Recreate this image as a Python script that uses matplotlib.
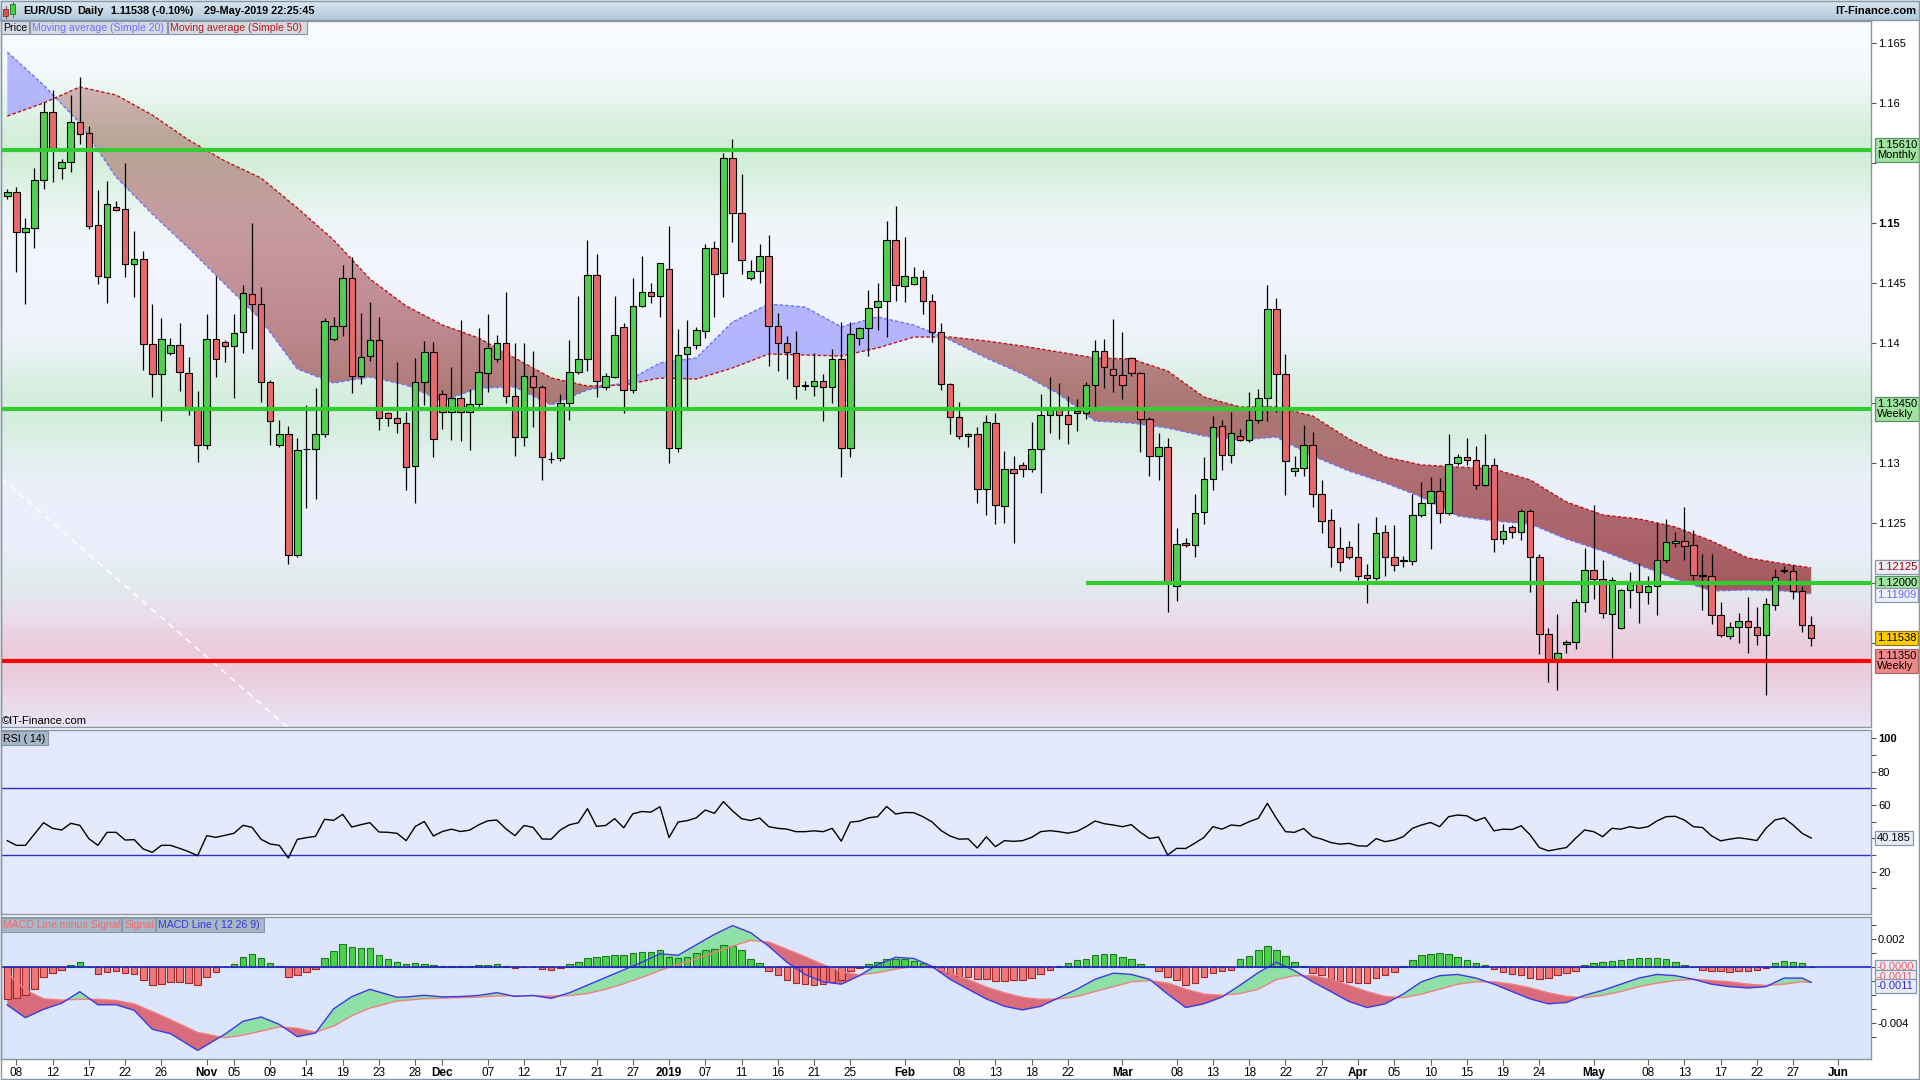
import numpy as np
import pandas as pd
import matplotlib
matplotlib.use("Agg")
import matplotlib.pyplot as plt
from matplotlib.path import Path
from matplotlib.patches import Rectangle
from matplotlib.transforms import blended_transform_factory
from matplotlib import font_manager

plt.rcParams['font.family'] = ['Liberation Sans', 'DejaVu Sans']
_names = {f.name for f in font_manager.fontManager.ttflist}
NARROW = 'Liberation Sans Narrow' if 'Liberation Sans Narrow' in _names else 'Liberation Sans'

# ---------------------------------------------------------------- data
start_date = "2018-10-07"
axis_end_date = "2019-06-02"
holidays = ["2018-12-25", "2019-01-01"]

opens = [1.15227,1.15255,1.14922,1.14955,1.15355,1.15922,1.15455,1.15505,1.15838,1.15747,
 1.14980,1.14547,1.15130,1.15113,1.14655,1.14697,1.13988,1.13738,1.13913,1.13980,
 1.13747,1.13455,1.13147,1.14030,1.14005,1.13972,1.14091,1.14405,1.14322,1.13677,
 1.13147,1.13238,1.12230,1.13115,1.13113,1.13238,1.14030,1.14138,1.14538,1.13722,
 1.13888,1.14022,1.13413,1.13372,1.13330,1.12972,1.13672,1.13922,1.13572,1.13422,
 1.13538,1.13422,1.13488,1.13752,1.13863,1.13997,1.13558,1.13213,1.13724,1.13630,
 1.13030,1.13038,1.13497,1.13755,1.13863,1.14566,1.13630,1.13713,1.14130,1.13608,
 1.14308,1.14422,1.14391,1.14613,1.13122,1.13905,1.13980,1.14100,1.14788,1.14580,
 1.15538,1.15080,1.14538,1.14597,1.14722,1.14138,1.13997,1.13913,1.13649,1.13643,
 1.13685,1.13630,1.13863,1.13122,1.14038,1.14122,1.14297,1.14347,1.14855,1.14472,
 1.14488,1.14547,1.14347,1.14088,1.13655,1.13380,1.13222,1.13241,1.12780,1.13330,
 1.12638,1.12947,1.12980,1.12947,1.13113,1.13397,1.13447,1.13397,1.13435,1.13418,
 1.13647,1.13930,1.13780,1.13730,1.13872,1.13747,1.13363,1.13055,1.13130,1.11972,
 1.12330,1.12313,1.12588,1.12863,1.13305,1.13063,1.13222,1.13188,1.13355,1.13538,
 1.14280,1.13738,1.12930,1.12955,1.13147,1.12738,1.12522,1.12288,1.12297,1.12213,
 1.12063,1.12038,1.12422,1.12213,1.12183,1.12180,1.12563,1.12663,1.12763,1.12580,
 1.12997,1.13047,1.13022,1.12813,1.12980,1.12363,1.12463,1.12422,1.12597,1.12213,
 1.11572,1.11363,1.11488,1.11505,1.11838,1.12105,1.12030,1.11738,1.11622,1.11938,
 1.12013,1.11922,1.11972,1.12188,1.12330,1.12347,1.12313,1.12060,1.12055,1.11730,
 1.11555,1.11630,1.11680,1.11630,1.11563,1.11813,1.12103,1.12097,1.11930,1.11647]
highs = [1.15283,1.15297,1.15038,1.15455,1.16005,1.16108,1.15530,1.16066,1.16216,1.15808,
 1.15274,1.15347,1.15180,1.15497,1.14933,1.14766,1.14324,1.14205,1.14043,1.14163,
 1.13883,1.13600,1.14241,1.14558,1.14024,1.14241,1.14482,1.14997,1.14463,1.13690,
 1.13355,1.13305,1.13205,1.13480,1.13622,1.14205,1.14213,1.14649,1.14718,1.14247,
 1.14338,1.14213,1.13422,1.13838,1.13422,1.13872,1.14013,1.14005,1.13605,1.13797,
 1.14188,1.13613,1.14122,1.14241,1.14066,1.14424,1.13997,1.13997,1.13933,1.13650,
 1.13093,1.13574,1.14024,1.14391,1.14858,1.14741,1.13752,1.14391,1.14163,1.14538,
 1.14724,1.14497,1.14668,1.14974,1.14113,1.14191,1.14130,1.14824,1.14849,1.15585,
 1.15697,1.15408,1.14690,1.14824,1.14899,1.14247,1.14058,1.14100,1.13682,1.13913,
 1.13741,1.13947,1.14172,1.14172,1.14130,1.14441,1.14502,1.15016,1.15141,1.14885,
 1.14630,1.14608,1.14405,1.14168,1.13668,1.13505,1.13252,1.13297,1.13400,1.13413,
 1.13100,1.13058,1.13008,1.13338,1.13572,1.13716,1.13663,1.13558,1.13530,1.13672,
 1.14022,1.14030,1.14197,1.14091,1.13880,1.13755,1.13380,1.13247,1.13205,1.12455,
 1.12372,1.12738,1.13047,1.13388,1.13355,1.13422,1.13280,1.13588,1.13613,1.14480,
 1.14372,1.13905,1.13055,1.13313,1.13255,1.12855,1.12613,1.12463,1.12347,1.12497,
 1.12155,1.12547,1.12480,1.12480,1.12227,1.12738,1.12838,1.12880,1.12872,1.13241,
 1.13072,1.13205,1.13138,1.13241,1.13038,1.12488,1.12480,1.12613,1.12613,1.12238,
 1.11622,1.11738,1.11522,1.11863,1.12288,1.12647,1.12188,1.12047,1.11947,1.12088,
 1.12163,1.12055,1.12497,1.12530,1.12422,1.12630,1.12438,1.12238,1.12238,1.11838,
 1.11672,1.11747,1.11880,1.11797,1.11872,1.12113,1.12138,1.12147,1.11972,1.11722]
lows = [1.15199,1.14593,1.14322,1.14793,1.15280,1.15343,1.15363,1.15427,1.15655,1.14952,
 1.14488,1.14330,1.15102,1.14552,1.14385,1.13774,1.13552,1.13352,1.13900,1.13602,
 1.13400,1.13010,1.13118,1.13718,1.13838,1.13538,1.13913,1.13947,1.13510,1.13150,
 1.13135,1.12155,1.12213,1.12627,1.12702,1.13213,1.14018,1.14055,1.13580,1.13655,
 1.13847,1.13272,1.13305,1.13247,1.12772,1.12663,1.13480,1.13047,1.13280,1.13188,
 1.13180,1.13105,1.13470,1.13593,1.13841,1.13502,1.13060,1.13143,1.13302,1.12858,
 1.12997,1.13018,1.13358,1.13740,1.13768,1.13552,1.13608,1.13705,1.13418,1.13580,
 1.14297,1.14330,1.14213,1.13002,1.13093,1.13468,1.13947,1.14043,1.14213,1.14385,
 1.14843,1.14572,1.14524,1.14502,1.13810,1.13768,1.13697,1.13530,1.13608,1.13560,
 1.13352,1.13502,1.12885,1.13047,1.13983,1.13891,1.14108,1.14052,1.14352,1.14338,
 1.14480,1.14238,1.14005,1.13608,1.13238,1.13202,1.13135,1.12668,1.12568,1.12488,
 1.12497,1.12335,1.12885,1.12927,1.12747,1.13247,1.13197,1.13155,1.13268,1.13363,
 1.13468,1.13622,1.13588,1.13530,1.13722,1.13088,1.12888,1.12855,1.11755,1.11847,
 1.12297,1.12213,1.12488,1.12772,1.12938,1.12997,1.13182,1.13172,1.13330,1.13347,
 1.13422,1.12730,1.12888,1.12888,1.12630,1.12413,1.12130,1.12097,1.12197,1.12022,
 1.11830,1.12022,1.12055,1.12097,1.12130,1.12147,1.12547,1.12285,1.12497,1.12563,
 1.12980,1.12980,1.12780,1.12807,1.12255,1.12322,1.12372,1.12355,1.11922,1.11405,
 1.11172,1.11105,1.11413,1.11447,1.11755,1.11863,1.11705,1.11372,1.11613,1.11788,
 1.11663,1.11822,1.11730,1.12163,1.12297,1.12188,1.12022,1.11772,1.11655,1.11547,
 1.11530,1.11497,1.11413,1.11480,1.11063,1.11772,1.12080,1.11863,1.11588,1.11472]
closes = [1.15255,1.14922,1.14955,1.15355,1.15922,1.15624,1.15505,1.15838,1.15738,1.14977,
 1.14558,1.15155,1.15110,1.14655,1.14697,1.13991,1.13738,1.14030,1.13980,1.13755,
 1.13441,1.13147,1.14030,1.13863,1.13972,1.14080,1.14413,1.14322,1.13677,1.13347,
 1.13238,1.12230,1.13105,1.13120,1.13238,1.14180,1.14138,1.14538,1.13722,1.13880,
 1.14022,1.13372,1.13372,1.13330,1.12963,1.13672,1.13922,1.13197,1.13422,1.13538,
 1.13422,1.13488,1.13755,1.13955,1.13997,1.13558,1.13213,1.13724,1.13630,1.13047,
 1.13036,1.13497,1.13755,1.13863,1.14566,1.13685,1.13724,1.14066,1.13608,1.14308,
 1.14422,1.14391,1.14663,1.13122,1.13897,1.13963,1.14108,1.14788,1.14574,1.15538,
 1.15080,1.14688,1.14597,1.14722,1.14138,1.13997,1.13922,1.13641,1.13645,1.13685,
 1.13630,1.13863,1.13122,1.14072,1.14122,1.14288,1.14347,1.14855,1.14480,1.14555,
 1.14547,1.14347,1.14088,1.13655,1.13380,1.13222,1.13241,1.12780,1.13338,1.12647,
 1.12947,1.12913,1.12947,1.13113,1.13397,1.13447,1.13397,1.13322,1.13413,1.13647,
 1.13930,1.13797,1.13730,1.13647,1.13747,1.13363,1.13055,1.13130,1.11997,1.12322,
 1.12313,1.12580,1.12863,1.13297,1.13063,1.13247,1.13188,1.13355,1.13538,1.14280,
 1.13738,1.13013,1.12955,1.13147,1.12738,1.12513,1.12297,1.12172,1.12213,1.12055,
 1.12038,1.12413,1.12213,1.12147,1.12187,1.12563,1.12663,1.12763,1.12580,1.12988,
 1.13047,1.13022,1.12813,1.12980,1.12363,1.12430,1.12422,1.12597,1.12213,1.11572,
 1.11363,1.11413,1.11505,1.11838,1.12105,1.12030,1.11747,1.12022,1.11938,1.12013,
 1.11922,1.11972,1.12188,1.12338,1.12347,1.12305,1.12063,1.12066,1.11730,1.11563,
 1.11630,1.11680,1.11630,1.11563,1.11822,1.12047,1.12107,1.11930,1.11647,1.11538]

# moving averages read every 4th bar
ma_idx = list(range(0, 200, 4)) + [199]
ma20 = [1.16424,1.16149,1.15833,1.15383,1.15074,1.14791,1.14491,1.14191,1.13783,1.13666,
 1.13716,1.13649,1.13516,1.13624,1.13633,1.13483,1.13608,1.13666,1.13833,1.13874,
 1.14174,1.14324,1.14299,1.14133,1.14216,1.14149,1.14024,1.13874,1.13741,1.13574,
 1.13349,1.13333,1.13291,1.13224,1.13191,1.13216,1.13058,1.12933,1.12833,1.12716,
 1.12558,1.12516,1.12491,1.12366,1.12266,1.12149,1.12033,1.11933,1.11941,1.11933,1.11909]
ma50 = [1.15891,1.15999,1.16133,1.16066,1.15899,1.15691,1.15516,1.15374,1.15124,1.14858,
 1.14533,1.14308,1.14149,1.14041,1.13874,1.13708,1.13641,1.13649,1.13708,1.13699,
 1.13791,1.13908,1.13899,1.13891,1.13958,1.14049,1.14049,1.14016,1.13974,1.13924,
 1.13874,1.13866,1.13766,1.13549,1.13466,1.13466,1.13391,1.13199,1.13049,1.12983,
 1.12966,1.12949,1.12858,1.12674,1.12566,1.12533,1.12466,1.12349,1.12208,1.12158,1.12125]

level_values = [1.15610, 1.13450, 1.12000, 1.11350]
level_start_bar = [None, None, 119, None]

trend_bars = [-0.7, 30.9]
trend_prices = [1.12874, 1.10799]

# RSI(14), one value per bar
rsi_vals = [38.6,35.8,35.8,42.6,49.4,46.0,45.0,49.0,47.8,39.8,35.8,43.6,43.6,39.0,39.2,33.6,
 31.6,35.8,35.8,34.0,32.0,29.6,41.6,40.6,41.8,43.0,47.8,46.6,39.4,36.6,35.8,28.2,
 39.4,40.4,41.2,51.4,50.8,54.4,46.8,48.2,49.4,43.8,43.6,43.0,
 38.6,47.1,50.1,41.4,44.1,45.5,44.1,44.9,48.1,50.5,51.0,45.7,41.6,47.7,46.6,39.6,
 39.5,45.0,48.1,49.4,57.8,47.2,47.7,51.8,46.3,54.7,56.1,55.7,59.0,40.5,49.8,50.6,
 52.3,57.0,55.0,62.0,56.5,51.8,50.7,52.2,47.0,46.0,45.5,44.0,44.0,44.5,44.0,46.0,
 38.3,49.7,50.3,52.3,53.0,59.1,54.6,55.5,55.4,53.0,49.9,44.7,41.4,39.5,39.7,34.2,
 40.9,35.0,38.6,38.2,38.6,40.6,44.0,44.6,44.0,43.1,44.2,47.0,50.4,48.8,48.0,47.0,
 48.2,43.6,39.9,40.8,30.0,34.0,33.9,37.1,40.5,47.0,45.5,48.0,47.5,50.0,52.0,61.0,
 52.0,44.0,43.6,45.9,41.0,39.5,37.5,36.5,37.0,35.5,35.3,39.8,38.0,39.0,41.0,46.0,
 48.0,49.5,47.0,53.0,54.0,53.5,50.5,52.5,44.5,45.5,45.3,47.5,42.0,34.5,32.5,33.5,
 34.5,40.0,45.0,44.0,41.0,46.0,45.5,47.0,46.0,47.0,50.5,53.0,53.2,51.0,47.0,46.5,
 41.5,38.5,39.5,40.3,39.6,38.7,46.0,51.0,52.2,48.0,43.0,40.185]

# MACD line and signal, read at the same bars
macd_idx = [0,2,4,6,8,10,12,14,16,18,21,24,26,28,30,32,34,36,38,40,43] + \
           list(range(44, 200, 2)) + [199]
macd_line = [-0.00273,-0.00364,-0.00304,-0.00260,-0.00177,-0.00271,-0.00271,-0.00311,-0.00447,
 -0.00479,-0.00599,-0.00483,-0.00390,-0.00359,-0.00412,-0.00500,-0.00474,-0.00300,-0.00213,
 -0.00160,-0.00217,
 -0.00215,-0.00203,-0.00214,-0.00212,-0.00204,-0.00184,-0.00211,-0.00204,-0.00225,-0.00185,
 -0.00130,-0.00075,-0.00020,0.00035,0.00095,0.00085,0.00160,0.00235,0.00298,0.00247,
 0.00150,0.00035,-0.00053,-0.00106,-0.00123,-0.00062,0.00018,0.00070,0.00062,0.00005,
 -0.00088,-0.00159,-0.00229,-0.00282,-0.00308,-0.00282,-0.00220,-0.00159,-0.00088,-0.00044,
 -0.00053,-0.00088,-0.00194,-0.00291,-0.00264,-0.00215,-0.00130,-0.00040,0.00035,-0.00026,
 -0.00106,-0.00176,-0.00247,-0.00291,-0.00264,-0.00194,-0.00106,-0.00062,-0.00053,-0.00079,
 -0.00123,-0.00176,-0.00229,-0.00264,-0.00255,-0.00203,-0.00167,-0.00123,-0.00079,-0.00053,
 -0.00062,-0.00088,-0.00123,-0.00141,-0.00150,-0.00141,-0.00079,-0.00079,-0.00110]
signal_line = [-0.00045,-0.00165,-0.00228,-0.00237,-0.00232,-0.00232,-0.00240,-0.00265,-0.00320,
 -0.00378,-0.00470,-0.00508,-0.00490,-0.00460,-0.00430,-0.00440,-0.00468,-0.00425,-0.00350,
 -0.00295,-0.00244,
 -0.00239,-0.00228,-0.00224,-0.00220,-0.00216,-0.00207,-0.00206,-0.00206,-0.00208,-0.00205,
 -0.00190,-0.00160,-0.00120,-0.00075,-0.00025,0.00020,0.00060,0.00105,0.00150,0.00192,
 0.00180,0.00128,0.00075,0.00018,-0.00033,-0.00057,-0.00040,-0.00015,0.00005,-0.00005,
 -0.00043,-0.00089,-0.00144,-0.00185,-0.00218,-0.00232,-0.00229,-0.00211,-0.00176,-0.00141,
 -0.00106,-0.00097,-0.00115,-0.00159,-0.00194,-0.00203,-0.00190,-0.00160,-0.00090,-0.00062,
 -0.00062,-0.00088,-0.00132,-0.00176,-0.00211,-0.00220,-0.00194,-0.00159,-0.00123,-0.00106,
 -0.00106,-0.00123,-0.00150,-0.00185,-0.00211,-0.00220,-0.00203,-0.00176,-0.00141,-0.00115,
 -0.00097,-0.00088,-0.00097,-0.00106,-0.00123,-0.00132,-0.00123,-0.00106,-0.00110]

# MACD minus signal histogram, one value per bar
hist_vals = [-0.00232,-0.00220,-0.00203,-0.00155,-0.00073,-0.00045,-0.00023,0.00013,0.00034,0.0,
 -0.00052,-0.00035,-0.00028,-0.00045,-0.00052,-0.00095,-0.00131,-0.00124,-0.00109,-0.00109,
 -0.00117,-0.00131,-0.00071,-0.00035,0.0,0.00024,0.00074,0.00096,0.00067,0.00031,
 0.00005,-0.00074,-0.00060,-0.00035,-0.00017,0.00063,0.00113,0.00165,0.00142,0.00135,
 0.00135,0.00084,0.00055,0.00034,
 0.00024,0.00028,0.00025,0.00012,0.00010,0.00009,0.00008,0.00008,0.00012,0.00018,
 0.00023,0.00010,-0.00005,0.00002,0.00002,-0.00015,-0.00020,-0.00008,0.00020,0.00035,
 0.00065,0.00070,0.00080,0.00090,0.00085,0.00100,0.00105,0.00108,0.00120,0.00075,
 0.00065,0.00070,0.00100,0.00125,0.00130,0.00160,0.00150,0.00120,0.00055,0.00030,
 -0.00030,-0.00060,-0.00090,-0.00115,-0.00125,-0.00128,-0.00122,-0.00110,-0.00090,-0.00030,
 -0.00005,0.00020,0.00040,0.00055,0.00060,0.00055,0.00045,0.00030,0.00008,-0.00025,
 -0.00045,-0.00065,-0.00070,-0.00085,-0.00085,-0.00097,-0.00097,-0.00095,-0.00090,-0.00080,
 -0.00050,-0.00020,0.00005,0.00030,0.00048,0.00060,0.00085,0.00095,0.00097,0.00075,
 0.00055,0.00025,0.0,-0.00030,-0.00075,-0.00095,-0.00132,-0.00115,-0.00075,-0.00040,
 -0.00030,-0.00020,0.00060,0.00080,0.00120,0.00150,0.00125,0.00080,0.00036,0.00010,
 -0.00040,-0.00060,-0.00085,-0.00100,-0.00110,-0.00115,-0.00115,-0.00080,-0.00055,-0.00035,
 0.00010,0.00050,0.00088,0.00095,0.00098,0.00095,0.00070,0.00050,0.00027,0.00015,
 -0.00017,-0.00035,-0.00050,-0.00060,-0.00079,-0.00085,-0.00080,-0.00060,-0.00044,-0.00025,
 0.00017,0.00030,0.00036,0.00045,0.00053,0.00060,0.00062,0.00062,0.00062,0.00055,
 0.00035,0.00015,0.0,-0.00020,-0.00026,-0.00030,-0.00035,-0.00030,-0.00027,-0.00020,
 -0.00009,0.00030,0.00044,0.00040,0.00027,0.0]

tick_dates = ["2018-10-08","2018-10-12","2018-10-17","2018-10-22","2018-10-26","2018-11-01",
              "2018-11-05","2018-11-09","2018-11-14","2018-11-19","2018-11-23","2018-11-28",
              "2018-12-02","2018-12-07","2018-12-12","2018-12-17","2018-12-21","2018-12-27",
              "2019-01-02","2019-01-07","2019-01-11","2019-01-16","2019-01-21","2019-01-25",
              "2019-02-01","2019-02-08","2019-02-13","2019-02-18","2019-02-22","2019-03-01",
              "2019-03-08","2019-03-13","2019-03-18","2019-03-22","2019-03-27","2019-04-01",
              "2019-04-05","2019-04-10","2019-04-15","2019-04-19","2019-04-24","2019-05-01",
              "2019-05-08","2019-05-13","2019-05-17","2019-05-22","2019-05-27","2019-06-02"]
tick_labels = ["08","12","17","22","26","Nov","05","09","14","19","23","28","Dec","07","12",
               "17","21","27","2019","07","11","16","21","25","Feb","08","13","18","22","Mar",
               "08","13","18","22","27","Apr","05","10","15","19","24","May","08","13","17",
               "22","27","Jun"]
bold_labels = {"Nov", "Dec", "2019", "Feb", "Mar", "Apr", "May", "Jun"}

# ---------------------------------------------------------------- layout
dates = [d.strftime("%Y-%m-%d") for d in pd.date_range(start_date, axis_end_date)
         if d.weekday() != 5 and d.strftime("%Y-%m-%d") not in holidays]
pos_of = {d: i for i, d in enumerate(dates)}

W, H = 1920, 1080
fig = plt.figure(figsize=(W / 100, H / 100), dpi=100)
fig.patch.set_facecolor("white")


def rect(x0, y0, x1, y1):
    return [x0 / W, 1 - y1 / H, (x1 - x0) / W, (y1 - y0) / H]


X0, X1 = 1, 1871
BAR_PX, FIRST_PX = 9.065, 7.3
xlim = ((X0 - FIRST_PX) / BAR_PX, (X1 - FIRST_PX) / BAR_PX)
PLO, PHI = 1.10799, 1.16683

ax_p = fig.add_axes(rect(X0, 21, X1, 727))
ax_r = fig.add_axes(rect(X0, 730, X1, 914))
ax_m = fig.add_axes(rect(X0, 917, X1, 1059))
SPINE = "#8797a8"
for ax in (ax_p, ax_r, ax_m):
    for s in ax.spines.values():
        s.set_color(SPINE)
        s.set_linewidth(1)
    ax.set_xlim(*xlim)

# --- price panel background
pp = np.linspace(PHI, PLO, 700)
t = (PHI - pp) / (PHI - PLO)
top_c = np.array([0.975, 0.985, 1.0])
bot_c = np.array([0.905, 0.918, 0.982])
col = top_c[None, :] * (1 - t[:, None]) + bot_c[None, :] * t[:, None]


def blend(col, center, sig, amp, c):
    w = amp * np.exp(-0.5 * ((pp - center) / sig) ** 2)
    return col * (1 - w[:, None]) + np.array(c)[None, :] * w[:, None]


col = blend(col, level_values[0], 0.0032, 0.85, (0.80, 0.93, 0.82))
col = blend(col, level_values[1], 0.0030, 0.80, (0.80, 0.93, 0.83))
col = blend(col, level_values[2], 0.0014, 0.30, (0.80, 0.93, 0.83))
col = blend(col, level_values[3], 0.0030, 0.85, (0.925, 0.77, 0.835))
bg = np.repeat(col[:, None, :], 2, axis=1)
ax_p.imshow(bg, extent=[xlim[0], xlim[1], PLO, PHI], aspect="auto", zorder=0,
            interpolation="bilinear")

# trend line
ax_p.plot(trend_bars, trend_prices, color="white", lw=1.2, ls=(0, (4, 3)), zorder=1)

# --- moving-average band
mx = np.array(ma_idx, float)
a20 = np.array(ma20)
a50 = np.array(ma50)
ax_p.fill_between(mx, a20, a50, where=a20 >= a50, interpolate=True,
                  facecolor=(0.62, 0.62, 1.0), alpha=0.72, lw=0, zorder=2)
red_poly = ax_p.fill_between(mx, a20, a50, where=a20 < a50, interpolate=True,
                             facecolor="none", lw=0, zorder=2)
cp = Path.make_compound_path(*red_poly.get_paths())
alpha = np.clip(0.36 + 0.34 * (1.1566 - pp) / 0.0346, 0.30, 0.72)
grad = np.zeros((len(pp), 2, 4))
grad[..., 0] = 0.56
grad[..., 1] = 0.13
grad[..., 2] = 0.15
grad[..., 3] = alpha[:, None]
im = ax_p.imshow(grad, extent=[xlim[0], xlim[1], PLO, PHI], aspect="auto", zorder=2,
                 interpolation="bilinear")
im.set_clip_path(cp, transform=ax_p.transData)
ax_p.plot(mx, a20, color="#6f6fff", lw=1.0, ls=(0, (2.5, 1.5)), zorder=3)
ax_p.plot(mx, a50, color="#c01515", lw=1.0, ls=(0, (2.5, 1.5)), zorder=3)

# --- candles
o = np.array(opens); h = np.array(highs); l = np.array(lows); c = np.array(closes)
idx = np.arange(len(o))
up = c >= o
ax_p.vlines(idx, l, h, color="black", lw=0.9, zorder=4)
blo = np.minimum(o, c)
bh = np.maximum(np.abs(c - o), 0.00003)
ax_p.bar(idx[up], bh[up], bottom=blo[up], width=0.72, color="#4fd14f",
         edgecolor="black", lw=0.8, zorder=5)
ax_p.bar(idx[~up], bh[~up], bottom=blo[~up], width=0.72, color="#e8696b",
         edgecolor="black", lw=0.8, zorder=5)

# --- level lines
for val, st in zip(level_values, level_start_bar):
    colr = "#ff0000" if val == level_values[3] else "#33cc33"
    ax_p.hlines(val, st if st is not None else xlim[0], xlim[1], color=colr, lw=3.0, zorder=6)

ax_p.set_ylim(PLO, PHI)
ax_p.set_xlim(*xlim)

# price axis
ax_p.yaxis.tick_right()
pticks = [1.115, 1.12, 1.125, 1.13, 1.135, 1.14, 1.145, 1.15, 1.155, 1.16, 1.165]
plabels = ["", "", "1.125", "1.13", "", "1.14", "1.145", "1.15", "", "1.16", "1.165"]
ax_p.set_yticks(pticks)
ax_p.set_yticklabels(plabels)
ax_p.tick_params(axis="y", direction="out", length=3.5, width=0.8, color="#505050",
                 labelsize=8, pad=1.5)
for lab in ax_p.get_yticklabels():
    if lab.get_text() == "1.15":
        lab.set_fontweight("bold")
ax_p.set_xticks([])

tr_p = blended_transform_factory(ax_p.transAxes, ax_p.transData)


def rlabel(ax, tr, y, text, fc, ec, tc, size=8):
    ax.text(1.0032, y, text, transform=tr, ha="left", va="center", fontsize=size, color=tc,
            linespacing=0.95, clip_on=False, zorder=20,
            bbox=dict(boxstyle="square,pad=0.18", fc=fc, ec=ec, lw=0.9))


rlabel(ax_p, tr_p, level_values[0], "1.15610\nMonthly", "#9fe39f", "#5f8f6f", "black")
rlabel(ax_p, tr_p, level_values[1], "1.13450\nWeekly", "#9fe39f", "#5f8f6f", "black")
rlabel(ax_p, tr_p, ma50[-1] + 0.00008, "1.12125", "#eef0f8", "#8797a8", "#a00000")
rlabel(ax_p, tr_p, level_values[2], "1.12000", "#9fe39f", "#5f8f6f", "black")
rlabel(ax_p, tr_p, ma20[-1] - 0.00012, "1.11909", "#eef0f8", "#8797a8", "#6a6aff")
rlabel(ax_p, tr_p, closes[-1], "1.11538", "#ffcc00", "#8a7a30", "black")
rlabel(ax_p, tr_p, level_values[3] - 0.00002, "1.11350\nWeekly", "#f08888", "#a06868", "black")

# --- RSI panel
ax_r.set_facecolor("#e4eafc")
ax_r.axhline(70, color="#2c2cd0", lw=1.0, zorder=2)
ax_r.axhline(30, color="#2c2cd0", lw=1.0, zorder=2)
ax_r.plot(np.arange(len(rsi_vals)), rsi_vals, color="black", lw=1.0, zorder=3)
ax_r.set_ylim(-5.4, 105)
ax_r.yaxis.tick_right()
ax_r.set_yticks([20, 40, 60, 80, 100])
ax_r.set_yticklabels(["20", "", "60", "80", "100"])
ax_r.set_yticks([10, 30, 50, 70, 90], minor=True)
ax_r.tick_params(axis="y", which="both", direction="out", length=3.5, width=0.8,
                 color="#505050", labelsize=8, pad=1.5)
for lab in ax_r.get_yticklabels():
    if lab.get_text() == "100":
        lab.set_fontweight("bold")
ax_r.set_xticks([])
ax_r.set_xlim(*xlim)
tr_r = blended_transform_factory(ax_r.transAxes, ax_r.transData)
rlabel(ax_r, tr_r, rsi_vals[-1], "40.185", "#e8ecf8", "#8797a8", "black")

# --- MACD panel
ax_m.set_facecolor("#dbe5fb")
hv = np.array(hist_vals)
hi = np.arange(len(hv))
pos = hv >= 0
ax_m.bar(hi[pos], hv[pos], width=0.72, color="#4bd04b", edgecolor="#1e7a1e", lw=0.8, zorder=3)
ax_m.bar(hi[~pos], hv[~pos], width=0.72, color="#f07878", edgecolor="#a02828", lw=0.8, zorder=3)
ax_m.axhline(0, color="#2020c8", lw=1.2, zorder=4)
mi = np.array(macd_idx, float)
ml = np.array(macd_line)
sl = np.array(signal_line)
ax_m.fill_between(mi, ml, sl, where=ml >= sl, interpolate=True, facecolor="#8ee0a6",
                  lw=0, zorder=2)
ax_m.fill_between(mi, ml, sl, where=ml < sl, interpolate=True, facecolor="#d96c7a",
                  lw=0, zorder=2)
ax_m.plot(mi, sl, color="#f08080", lw=1.0, zorder=3)
ax_m.plot(mi, ml, color="#3a3ae8", lw=1.0, zorder=3)
ax_m.set_ylim(-0.00661, 0.0036)
ax_m.yaxis.tick_right()
ax_m.set_yticks([-0.004, -0.002, 0.0, 0.002])
ax_m.set_yticklabels(["-0.004", "", "", "0.002"])
ax_m.set_yticks([-0.005, -0.003, -0.001, 0.001, 0.003], minor=True)
ax_m.tick_params(axis="y", which="both", direction="out", length=3.5, width=0.8,
                 color="#505050", labelsize=8, pad=1.5)
tr_m = blended_transform_factory(ax_m.transAxes, ax_m.transData)
rlabel(ax_m, tr_m, 0.0, "-0.0000", "#e8ecf8", "#8797a8", "#f05a5a")
rlabel(ax_m, tr_m, -0.00075, "-0.0011", "#e8ecf8", "#8797a8", "#f05a5a")
rlabel(ax_m, tr_m, -0.00135, "-0.0011", "#e8ecf8", "#8797a8", "#2a2ae0")

# x axis ticks
xt = [pos_of[d] for d in tick_dates]
ax_m.set_xticks(xt)
ax_m.set_xticklabels(tick_labels, family=NARROW, fontsize=8.5)
for lab in ax_m.get_xticklabels():
    if lab.get_text() in bold_labels:
        lab.set_fontweight("bold")
ax_m.tick_params(axis="x", direction="out", length=4, width=0.8, color="#606060", pad=2)
ax_m.set_xlim(*xlim)

# ---------------------------------------------------------------- overlay (pixel coords)
ov = fig.add_axes([0, 0, 1, 1], zorder=10)
ov.axis("off")
ov.patch.set_alpha(0)

hdr = np.linspace(0, 1, 20)
hcol = np.array([0.86, 0.91, 0.95])[None, :] * (1 - hdr[:, None]) + \
       np.array([0.70, 0.79, 0.85])[None, :] * hdr[:, None]
ov.imshow(np.repeat(hcol[:, None, :], 2, axis=1), extent=[0, W, 20, 0], aspect="auto",
          interpolation="bilinear", zorder=1)
ov.set_xlim(0, W)
ov.set_ylim(H, 0)
ov.plot([0, W], [20, 20], color="#8797a8", lw=1, zorder=2)
# icon
ov.add_patch(Rectangle((3, 9), 5, 7, fc="#e05050", ec="#803030", lw=0.6, zorder=3))
ov.plot([5.5, 5.5], [6, 18], color="#803030", lw=0.6, zorder=2)
ov.add_patch(Rectangle((10, 4), 5, 10, fc="#40d040", ec="#207020", lw=0.6, zorder=3))
ov.plot([12.5, 12.5], [1, 17], color="#207020", lw=0.6, zorder=2)
for xx, txt in [(23, "EUR/USD"), (77, "Daily"), (111, "1.11538 (-0.10%)"),
                (204, "29-May-2019 22:25:45")]:
    ov.text(xx, 10.5, txt, fontsize=7.8, fontweight="bold", va="center", ha="left", zorder=4)
ov.text(1916, 10.5, "IT-Finance.com", fontsize=8, fontweight="bold", va="center",
        ha="right", zorder=4)


def tag(x0, x1, y0, y1, txt, tc, fc="#d5dae2", size=7.6):
    ov.add_patch(Rectangle((x0, y0), x1 - x0, y1 - y0, fc=fc, ec="#8797a8", lw=0.8, zorder=3))
    ov.text(x0 + 2, (y0 + y1) / 2 + 0.5, txt, fontsize=size, color=tc, va="center", ha="left",
            zorder=4)


tag(1, 29, 21, 34, "Price", "black")
tag(30, 167, 21, 34, "Moving average (Simple 20)", "#6f6fff")
tag(168, 307, 21, 34, "Moving average (Simple 50)", "#b81818")
tag(1, 48, 731, 745, "RSI ( 14)", "black", fc="#a7b7c7")
tag(1, 121, 918, 932, "MACD Line minus Signal", "#f06a6a", fc="#a7b7c7")
tag(122, 155, 918, 932, "Signal", "#f06a6a", fc="#a7b7c7")
tag(156, 264, 918, 932, "MACD Line ( 12 26 9)", "#3535e0", fc="#a7b7c7")
ov.text(2, 721, "\u00a9IT-Finance.com", fontsize=8, va="center", ha="left", zorder=4)
ov.add_patch(Rectangle((0.5, 0.5), W - 1.5, H - 1.5, fc="none", ec="#8797a8", lw=1, zorder=5))

fig.savefig("out.png", dpi=100)
